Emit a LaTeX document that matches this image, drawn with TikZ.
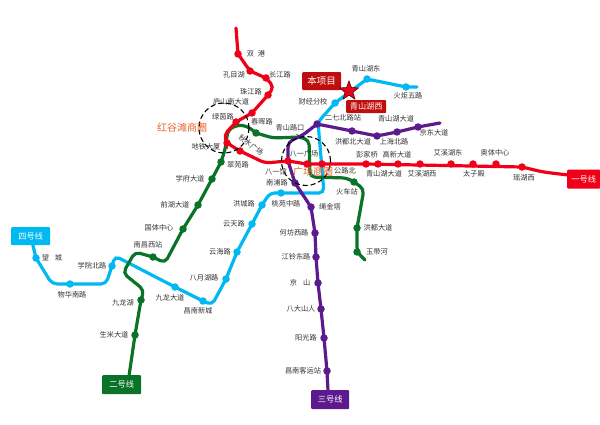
\documentclass[tikz,border=0pt]{standalone}
\usepackage{fontspec}
\setmainfont{Noto Sans CJK SC}
\usetikzlibrary{shapes.geometric, backgrounds}
\definecolor{lineRed}{HTML}{F00018}
\definecolor{lineGreen}{HTML}{0B7328}
\definecolor{linePurple}{HTML}{5C1A8E}
\definecolor{lineBlue}{HTML}{00B9F2}
\definecolor{boxRed}{HTML}{C00D0D}
\definecolor{inkGrey}{HTML}{333333}
\definecolor{roundOrange}{HTML}{E8632A}

\begin{document}
\begin{tikzpicture}[x=1pt, y=-1pt,
   stn/.style={circle, inner sep=0pt, minimum size=7.5pt},
   lbl/.style={font=\fontsize{7.2}{8}\selectfont, text=inkGrey, inner sep=0pt},
   tag/.style={font=\fontsize{8.2}{9}\selectfont, text=white, inner sep=0pt,
               rounded corners=1pt, anchor=north west},
   area/.style={font=\fontsize{10}{11}\selectfont, text=roundOrange, inner sep=0pt},
   route/.style={line width=3.2pt, rounded corners=5pt, line cap=round},
   ring/.style={circle, draw=black, dash pattern=on 5pt off 3pt, line width=1.1pt, inner sep=0pt}]

\useasboundingbox (0,0) rectangle (600,425);

% line boxes
\node[tag, fill=lineRed, minimum width=33pt, minimum height=19pt] (boxOne) at (567,169.5) {一号线};
\node[tag, fill=lineGreen, minimum width=39pt, minimum height=19pt] (boxTwo) at (102,375) {二号线};
\node[tag, fill=linePurple, minimum width=38pt, minimum height=19pt] (boxThree) at (311,390) {三号线};
\node[tag, fill=lineBlue, minimum width=39pt, minimum height=18pt] (boxFour) at (11,227) {四号线};

% stations
\foreach \n/\x/\y in {r1/238/54, r2/250/71, r3/266/78, r4/268/95, r5/252/113, r6/236/122,
    r7/227/143, r8/240/151, r9/288/161, r10/307/164, r11/322/164, r12/366/164,
    r13/378/164, r14/398/164, r15/420/164, r16/451/164, r17/473/164, r18/496/164, r19/522/167}
  \node[stn, fill=lineRed] (\n) at (\x,\y) {};
\foreach \n/\x/\y in {g1/135/335, g2/141/300, g3/153/257, g4/183/229, g5/198/205, g6/212/179,
    g7/221/162, g8/256/133, g9/354/182, g10/357/228, g11/357/252}
  \node[stn, fill=lineGreen] (\n) at (\x,\y) {};
\foreach \n/\x/\y in {p1/327/371, p2/324/338, p3/321/309, p4/318/283, p5/316/257, p6/315/233,
    p7/311/207, p8/295/183, p9/317/124, p10/352/131, p11/377/136, p12/397/132, p13/418/127}
  \node[stn, fill=linePurple] (\n) at (\x,\y) {};
\foreach \n/\x/\y in {b1/36/258, b2/70/284, b3/112/266, b4/175/287, b5/203/301, b6/226/279,
    b7/237/252, b8/252/224, b9/262/205, b10/281/193, b11/335/103, b12/367/79, b13/406/87}
  \node[stn, fill=lineBlue] (\n) at (\x,\y) {};

% bends of the lines
\foreach \n/\x/\y in {ra/236/28, rb/274/87, rc/224/135, rd/265/163, re/543/172, rf/568/175,
    gz/129/376, ga/144/290, gb/123/273, gc/135/252, gd/165/263, ge/225/150, gf/228/130, gg/237/125,
    gh/247/126, gi/273/138, gj/300/137, gk/309/140, gl/310/177, gm/347/178, gn/364/189, go/365/260,
    pz/328/391, pa/288/142, pb/303/135, pc/440/123,
    ba/52/284, bb/106/284, bc/115/256, bd/212/305, be/270/193, bf/324/193, bg/318/122, bh/417/87}
  \coordinate (\n) at (\x,\y);

\begin{scope}[on background layer]
  \draw[route, lineBlue] (boxFour) -- (b1.center) -- (ba) -- (b2.center) -- (bb) -- (b3.center) -- (bc)
     -- (b4.center) -- (b5.center) -- (bd) -- (b6.center) -- (b7.center) -- (b8.center) -- (b9.center)
     -- (be) -- (b10.center) -- (bf) -- (bg) -- (b11.center) -- (b12.center) -- (b13.center) -- (bh);
  \draw[route, lineGreen] (gz) -- (g1.center) -- (g2.center) -- (ga) -- (gb) -- (gc) -- (g3.center)
     -- (gd) -- (g4.center) -- (g5.center) -- (g6.center) -- (g7.center) -- (ge) -- (gf) -- (gg) -- (gh)
     -- (g8.center) -- (gi) -- (gj) -- (gk) -- (gl) -- (gm) -- (g9.center) -- (gn) -- (g10.center)
     -- (g11.center) -- (go);
  \draw[route, linePurple] (pz) -- (p1.center) -- (p2.center) -- (p3.center) -- (p4.center)
     -- (p5.center) -- (p6.center) -- (p7.center) -- (p8.center) -- (r9.center) -- (pa) -- (pb)
     -- (p9.center) -- (p10.center) -- (p11.center) -- (p12.center) -- (p13.center) -- (pc);
  \draw[route, lineRed] (ra) -- (r1.center) -- (r2.center) -- (r3.center) -- (rb) -- (r4.center)
     -- (r5.center) -- (r6.center) -- (rc) -- (r7.center) -- (r8.center) -- (rd) -- (r9.center)
     -- (r10.center) -- (r11.center) -- (r12.center) -- (r19.center) -- (re) -- (rf);
\end{scope}

% business rounds
\node[ring, minimum size=50pt] (ringHong) at (224,128) {};
\node[ring, minimum size=49pt] (ringGuang) at (306,161) {};

% project marks
\node[tag, fill=boxRed, font=\fontsize{9.5}{10}\selectfont, minimum width=39pt, minimum height=18pt] (boxProject) at (302,72) {本项目};
\node[tag, fill=boxRed, minimum width=40pt, minimum height=13pt] (boxWest) at (346,100) {青山湖西};
\node[star, star points=5, star point ratio=2.4, fill=lineRed, draw=black!70!red, line width=.6pt,
      inner sep=0pt, minimum size=20pt] (projStar) at (349,91) {};

% station names
\foreach \x/\y/\t [count=\i] in {256/54/双\hspace{4pt}港, 234/75/孔目湖, 280/75/长江路, 251/92/珠江路,
    231/102/庐山南大道, 223/117/绿茵路, 262/122/春晖路, 290/128/青山路口, 206/147/地铁大厦,
    238/165/翠苑路, 190/179/学府大道, 175/205/前湖大道, 159/228/国体中心, 148/245/南昌西站,
    52/258/望\hspace{6pt}城, 92/266/学院北路, 72/295/物华南路, 123/303/九龙湖, 170/298/九龙大道,
    198/311/昌南新城, 204/278/八月湖路, 220/252/云海路, 234/224/云天路, 244/204/洪城路,
    286/204/桃苑中路, 277/183/南浦路, 276/172/八一馆, 304/154/八一广场, 345/171/公路北,
    347/192/火车站, 330/207/绳金塔, 378/228/洪都大道, 377/252/玉带河, 294/233/何坊西路,
    296/257/江铃东路, 300/283/京\hspace{6pt}山, 301/309/八大山人, 306/338/阳光路, 303/371/昌南客运站,
    114/335/生米大道, 366/69/青山湖东, 408/96/火炬五路, 313/102/财经分校, 343/118/二七北路站,
    396/119/青山湖大道, 434/133/京东大道, 353/142/洪都北大道, 394/142/上海北路, 367/155/彭家桥,
    397/155/高新大道, 448/153/艾溪湖东, 495/153/奥体中心, 384/174/青山湖大道, 422/174/艾溪湖西,
    474/174/太子殿, 524/178/瑶湖西}
  \node[lbl] (lb\i) at (\x,\y) {\t};
\node[lbl, rotate=-38] (lbQiu) at (251,145) {秋水广场};

\node[area] (areaHong) at (182,128) {红谷滩商圈};
\node[area] (areaGuang) at (313,172) {广场商圈};
\end{tikzpicture}
\end{document}
